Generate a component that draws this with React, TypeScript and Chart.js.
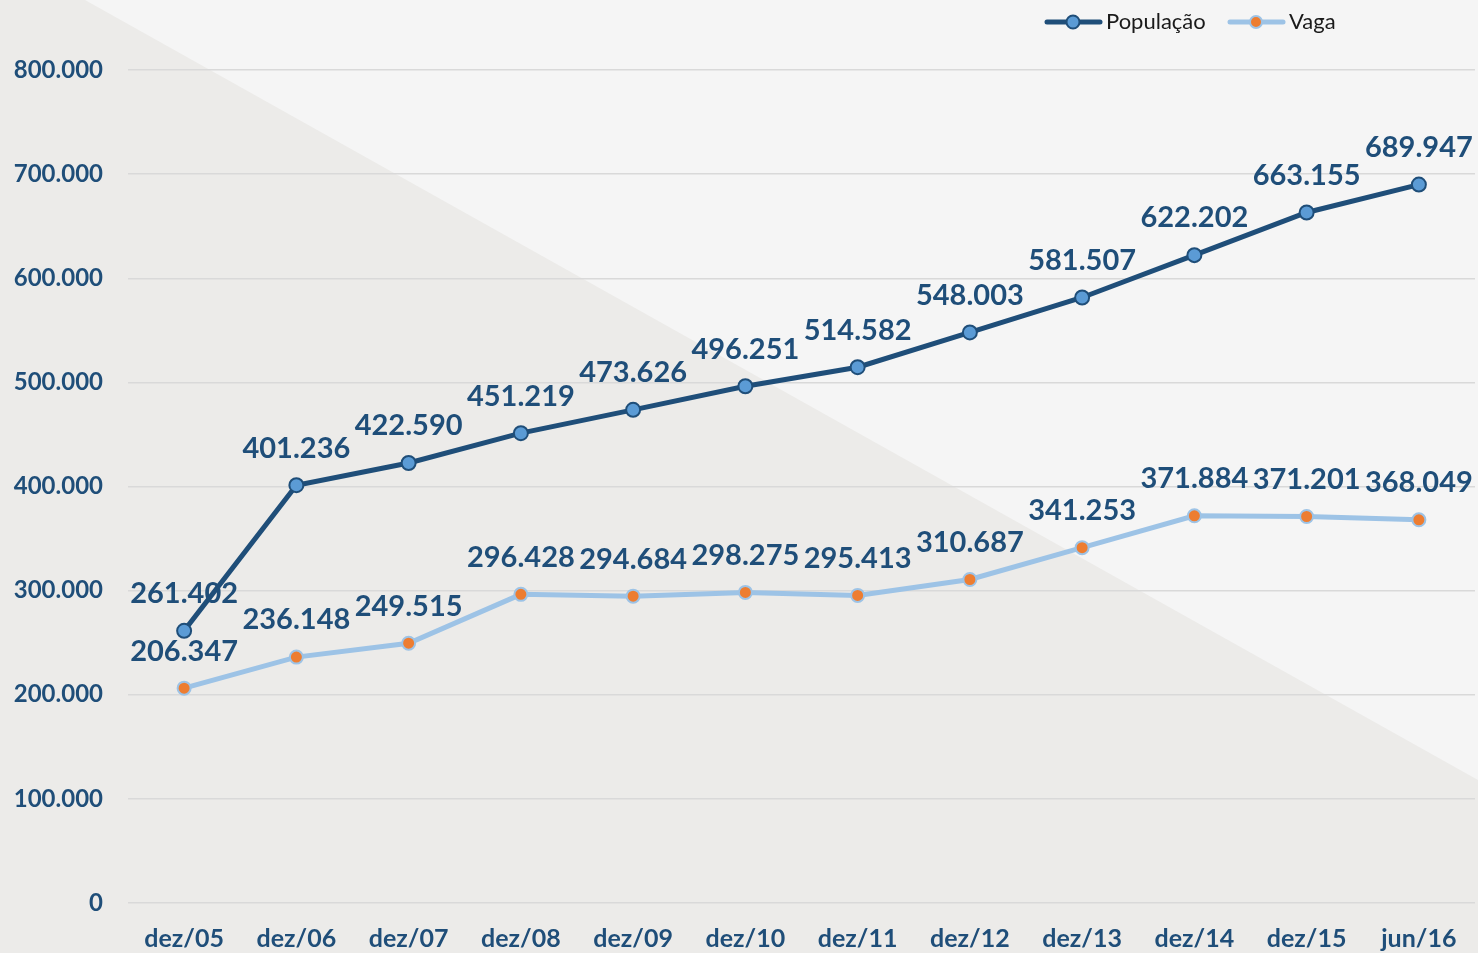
import React, { useEffect, useRef } from "react";
import { Chart, registerables } from "chart.js";

Chart.register(...registerables);

const categories = ["dez/05", "dez/06", "dez/07", "dez/08", "dez/09", "dez/10", "dez/11", "dez/12", "dez/13", "dez/14", "dez/15", "jun/16"];
const populacao = [261402, 401236, 422590, 451219, 473626, 496251, 514582, 548003, 581507, 622202, 663155, 689947];
const vaga = [206347, 236148, 249515, 296428, 294684, 298275, 295413, 310687, 341253, 371884, 371201, 368049];
const seriesNames = ["População", "Vaga"];

const TEXT = "#1F4E79";
const fmt = (v: number) => String(Math.round(v)).replace(/\B(?=(\d{3})+(?!\d))/g, ".");

const bgPlugin = {
  id: "bg",
  beforeDraw(chart: any) {
    const { ctx, width, height } = chart;
    ctx.save();
    ctx.fillStyle = "#F5F5F5";
    ctx.fillRect(0, 0, width, height);
    ctx.fillStyle = "#ECEBE9";
    ctx.beginPath();
    ctx.moveTo(0, 0);
    ctx.lineTo(85, 0);
    ctx.lineTo(width, 780);
    ctx.lineTo(width, height);
    ctx.lineTo(0, height);
    ctx.closePath();
    ctx.fill();
    ctx.restore();
  },
};

const labelPlugin = {
  id: "labels",
  afterDatasetsDraw(chart: any) {
    const { ctx } = chart;
    ctx.save();
    ctx.font = "bold 29px Lato";
    ctx.fillStyle = TEXT;
    ctx.textAlign = "center";
    ctx.textBaseline = "middle";
    chart.data.datasets.forEach((ds: any, i: number) => {
      const meta = chart.getDatasetMeta(i);
      meta.data.forEach((pt: any, j: number) => {
        ctx.fillText(fmt(ds.data[j]), pt.x, pt.y - 37);
      });
    });
    ctx.restore();
  },
};

const legendPlugin = {
  id: "customLegend",
  afterDraw(chart: any) {
    const { ctx } = chart;
    const items = [
      { x: 1047, line: "#1F4E79", fill: "#5B9BD5", border: "#1F4E79", lw: 5, r: 6.5 },
      { x: 1230, line: "#9DC3E6", fill: "#ED7D31", border: "#9DC3E6", lw: 5, r: 6 },
    ];
    const y = 22;
    ctx.save();
    items.forEach((it, i) => {
      ctx.strokeStyle = it.line;
      ctx.lineWidth = it.lw;
      ctx.lineCap = "round";
      ctx.beginPath();
      ctx.moveTo(it.x, y);
      ctx.lineTo(it.x + 53, y);
      ctx.stroke();
      ctx.beginPath();
      ctx.arc(it.x + 26, y, it.r, 0, Math.PI * 2);
      ctx.fillStyle = it.fill;
      ctx.fill();
      ctx.lineWidth = 2;
      ctx.strokeStyle = it.border;
      ctx.stroke();
      ctx.fillStyle = "#1a1a1a";
      ctx.font = "22px Lato";
      ctx.textAlign = "left";
      ctx.textBaseline = "middle";
      ctx.fillText(seriesNames[i], it.x + 59, y);
    });
    ctx.restore();
  },
};

export default function App() {
  const ref = useRef<HTMLCanvasElement | null>(null);
  useEffect(() => {
    document.body.style.margin = "0";
    const chart = new Chart(ref.current as HTMLCanvasElement, {
      type: "line",
      data: {
        labels: categories,
        datasets: [
          {
            label: seriesNames[0],
            data: populacao,
            borderColor: "#1F4E79",
            borderWidth: 5,
            pointRadius: 7,
            pointBackgroundColor: "#5B9BD5",
            pointBorderColor: "#1F4E79",
            pointBorderWidth: 2,
            tension: 0,
            clip: false,
          },
          {
            label: seriesNames[1],
            data: vaga,
            borderColor: "#9DC3E6",
            borderWidth: 5,
            pointRadius: 6.5,
            pointBackgroundColor: "#ED7D31",
            pointBorderColor: "#9DC3E6",
            pointBorderWidth: 2,
            tension: 0,
            clip: false,
          },
        ],
      },
      options: {
        animation: false,
        responsive: false,
        layout: { autoPadding: false, padding: { top: 70, right: 3, left: 0, bottom: 0 } },
        plugins: {
          legend: { display: false },
          tooltip: { enabled: false },
        },
        scales: {
          x: {
            offset: true,
            grid: { display: false, drawTicks: false },
            border: { display: false },
            ticks: {
              color: TEXT,
              font: { family: "Lato", weight: "bold", size: 25 },
              padding: 21,
              maxRotation: 0,
              autoSkip: false,
            },
            afterFit(scale: any) {
              scale.height = 50;
              scale.paddingLeft = 0;
              scale.paddingRight = 0;
            },
          },
          y: {
            min: 0,
            max: 800000,
            grid: { color: "#D9D9D9", lineWidth: 1.5, drawTicks: false },
            border: { display: false },
            ticks: {
              stepSize: 100000,
              color: TEXT,
              font: { family: "Lato", weight: "bold", size: 24 },
              padding: 25,
              callback: (v: any) => fmt(Number(v)),
            },
            afterFit(scale: any) {
              scale.width = 128;
            },
          },
        },
      },
      plugins: [bgPlugin, labelPlugin, legendPlugin],
    });
    return () => chart.destroy();
  }, []);
  return (
    <div style={{ position: "absolute", left: 0, top: 0, width: 1478, height: 953 }}>
      <canvas ref={ref} width={1478} height={953} />
    </div>
  );
}
